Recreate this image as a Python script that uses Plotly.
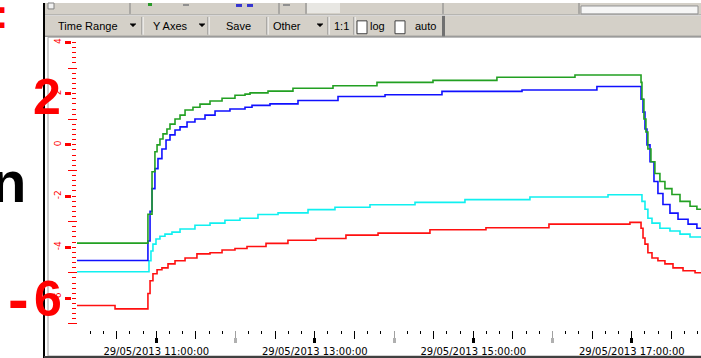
import pandas as pd
import plotly.graph_objects as go

W, H = 701, 358
BASE = "2013-05-29 10:00:00"

# ---- data (minutes after 10:00, value) ----
green_minutes = [0, 53.7, 56.8, 59.0, 60.6, 62.8, 65.1, 68.1, 70.4, 74.2,
                 78.0, 81.8, 87.8, 93.1, 100.7, 109.8, 119.6, 127.2, 131.0, 144.6,
                 163.5, 193.8, 227.1, 269.5, 317.9, 377.0, 427.0, 427.7, 429.2, 430.7,
                 432.2, 434.5, 437.5, 441.3, 445.1, 450.4, 456.5, 464.1, 469.3, 480]
green_values = [-3.84, -2.71, -1.05, -0.27, 0.0, 0.23, 0.43, 0.62, 0.81, 1.01,
                1.16, 1.36, 1.47, 1.59, 1.71, 1.82, 1.94, 1.98, 2.03, 2.10,
                2.21, 2.31, 2.44, 2.52, 2.64, 2.73, 2.44, 1.78, 1.01, 0.50,
                -0.16, -0.66, -1.12, -1.43, -1.71, -1.94, -2.21, -2.40, -2.52, -2.56]

blue_minutes = [0, 53.7, 55.3, 56.8, 59.0, 61.3, 64.3, 67.4, 70.4, 74.2,
                78.0, 83.3, 89.3, 96.9, 104.5, 115.8, 127.2, 132.5, 146.1, 167.3,
                197.6, 233.2, 276.3, 336.9, 393.6, 427.0, 428.5, 430.0, 431.5, 433.8,
                436.8, 439.8, 443.6, 448.9, 455.0, 462.6, 469.3, 480]
blue_values = [-4.52, -3.76, -2.60, -1.71, -0.93, -0.54, -0.16, 0.19, 0.39, 0.58,
               0.70, 0.89, 1.01, 1.16, 1.32, 1.40, 1.47, 1.54, 1.60, 1.73,
               1.89, 1.96, 2.09, 2.14, 2.28, 1.78, 1.28, 0.62, 0.0, -0.66,
               -1.43, -1.90, -2.33, -2.67, -2.91, -3.10, -3.26, -3.29]

cyan_minutes = [0, 54.5, 56.0, 57.5, 59.8, 62.8, 66.6, 71.9, 78.0, 89.3,
                100.7, 112.0, 123.4, 137.0, 152.2, 174.9, 195.3, 221.8, 255.9, 293.7,
                342.9, 402.0, 427.7, 430.0, 432.2, 435.3, 441.3, 448.9, 456.5, 464.1,
                480]
cyan_values = [-4.96, -4.53, -4.15, -3.88, -3.68, -3.57, -3.49, -3.41, -3.29, -3.14,
               -3.06, -2.95, -2.87, -2.72, -2.66, -2.53, -2.44, -2.34, -2.25, -2.14,
               -2.04, -1.95, -2.21, -2.52, -2.87, -3.06, -3.26, -3.37, -3.49, -3.60,
               -3.60]

red_minutes = [0, 28.8, 53.7, 55.3, 57.5, 60.6, 64.3, 68.9, 74.2, 81.8,
               90.8, 100.7, 109.8, 119.6, 128.7, 143.1, 159.7, 180.9, 203.6, 227.9,
               267.2, 309.6, 357.3, 418.6, 427.0, 428.5, 430.0, 432.2, 435.3, 439.8,
               445.1, 451.2, 458.8, 467.9, 480]
red_values = [-6.28, -6.41, -5.81, -5.31, -5.04, -4.88, -4.81, -4.65, -4.53, -4.42,
              -4.26, -4.22, -4.11, -4.05, -3.97, -3.85, -3.73, -3.66, -3.53, -3.45,
              -3.32, -3.24, -3.10, -3.03, -3.26, -3.64, -3.88, -4.22, -4.42, -4.53,
              -4.65, -4.81, -4.92, -5.00, -5.00]

x_tick_labels = ["29/05/2013 11:00:00", "29/05/2013 13:00:00",
                 "29/05/2013 15:00:00", "29/05/2013 17:00:00"]
labelled_hours = [11, 13, 15, 17]
grey_hours = [12, 14, 16]
y_major = [-6, -4, -2, 0, 2, 4]
y_mid = [-7, -5, -3, -1, 1, 3]
y_tick_labels = ["-6", "-4", "-2", "0", "2", "4"]
x_range_minutes = [0, 472.4]
y_range = [-7.09, 4.07]

base = pd.Timestamp(BASE)


def t(m):
    return base + pd.to_timedelta(m, unit="min")


def tl(ms):
    return [t(m) for m in ms]


def px(x):
    return x / W


def py(y):
    return 1 - y / H


fig = go.Figure()
for mins, vals, col in [(red_minutes, red_values, "#ff1010"),
                        (cyan_minutes, cyan_values, "#10f0f0"),
                        (blue_minutes, blue_values, "#1010ff"),
                        (green_minutes, green_values, "#22a022")]:
    fig.add_trace(go.Scatter(x=tl(mins), y=vals, mode="lines",
                             line=dict(color=col, width=1.6, shape="hv"),
                             hoverinfo="skip"))

xr = [t(x_range_minutes[0]), t(x_range_minutes[1])]
ten_min = [t(m) for m in range(10, 480, 10)]
half_hours = [t(m) for m in range(30, 480, 60)]
lab_hours = [t((h - 10) * 60) for h in labelled_hours]
gr_hours = [t((h - 10) * 60) for h in grey_hours]

common_x = dict(type="date", range=xr, showgrid=False, zeroline=False,
                showline=False, overlaying="x", anchor="free", side="bottom")

y_minor = [round(-7.0 + 0.2 * i, 2) for i in range(56)]
common_y = dict(range=y_range, showgrid=False, zeroline=False, showline=False,
                overlaying="y", anchor="free", side="left")

fig.update_layout(
    width=W, height=H, margin=dict(l=0, r=0, t=0, b=0),
    paper_bgcolor="white", plot_bgcolor="white", showlegend=False,
    xaxis=dict(type="date", domain=[px(77), 1], range=xr, showgrid=False,
               zeroline=False, showline=False, showticklabels=False, ticks=""),
    xaxis2=dict(**common_x, position=py(330), tickmode="array", tickvals=ten_min,
                ticks="outside", ticklen=3, tickwidth=1, tickcolor="#000",
                showticklabels=False),
    xaxis3=dict(**common_x, position=py(330), tickmode="array", tickvals=half_hours,
                ticks="outside", ticklen=8, tickwidth=1, tickcolor="#000",
                showticklabels=False),
    xaxis4=dict(**common_x, position=py(330), tickmode="array", tickvals=lab_hours,
                ticktext=x_tick_labels, ticks="outside", ticklen=12, tickwidth=1,
                tickcolor="#000", showticklabels=True,
                tickfont=dict(family="DejaVu Sans", size=10, color="#000")),
    xaxis5=dict(**common_x, position=py(330), tickmode="array", tickvals=gr_hours,
                ticks="outside", ticklen=12, tickwidth=1, tickcolor="#a0a0a0",
                showticklabels=False),
    xaxis6=dict(**common_x, position=py(337), tickmode="array", tickvals=lab_hours,
                ticks="outside", ticklen=5, tickwidth=3, tickcolor="#000",
                showticklabels=False),
    xaxis7=dict(**common_x, position=py(337), tickmode="array", tickvals=gr_hours,
                ticks="outside", ticklen=5, tickwidth=3, tickcolor="#b0b0b0",
                showticklabels=False),
    yaxis=dict(domain=[py(326), py(38)], range=y_range, showgrid=False,
               zeroline=False, showline=False, showticklabels=False,
               tickmode="array", tickvals=y_minor, ticks="outside", ticklen=4,
               tickwidth=1, tickcolor="#ff0000"),
    yaxis2=dict(**common_y, position=px(77), tickmode="array", tickvals=y_mid,
                ticks="outside", ticklen=9, tickwidth=1, tickcolor="#ff0000",
                showticklabels=False),
    yaxis3=dict(**common_y, position=px(71), tickmode="array", tickvals=y_major,
                ticktext=y_tick_labels, ticks="outside", ticklen=6, tickwidth=3,
                tickcolor="#ff0000", showticklabels=True, tickangle=-90,
                tickfont=dict(family="DejaVu Sans", size=9, color="#ff0000")),
)

# invisible anchor traces so the overlaying tick axes render
for i in range(2, 8):
    fig.add_trace(go.Scatter(x=[xr[0]], y=[0], xaxis=f"x{i}", yaxis="y",
                             mode="markers", marker=dict(opacity=0),
                             hoverinfo="skip"))
for i in range(2, 4):
    fig.add_trace(go.Scatter(x=[xr[0]], y=[0], xaxis="x", yaxis=f"y{i}",
                             mode="markers", marker=dict(opacity=0),
                             hoverinfo="skip"))

shapes = []


def rect(x0, y0, x1, y1, fill=None, line=None, lw=1):
    shapes.append(dict(type="rect", xref="paper", yref="paper",
                       x0=px(x0), x1=px(x1), y0=py(y1), y1=py(y0),
                       fillcolor=fill if fill else "rgba(0,0,0,0)",
                       line=dict(color=line if line else "rgba(0,0,0,0)",
                                 width=lw if line else 0)))


def hline(x0, x1, y, col, lw=1):
    shapes.append(dict(type="line", xref="paper", yref="paper",
                       x0=px(x0), x1=px(x1), y0=py(y), y1=py(y),
                       line=dict(color=col, width=lw)))


def vline(x, y0, y1, col, lw=1):
    shapes.append(dict(type="line", xref="paper", yref="paper",
                       x0=px(x), x1=px(x), y0=py(y0), y1=py(y1),
                       line=dict(color=col, width=lw)))


def tri(cx, cy):
    path = (f"M {px(cx-3)},{py(cy-1.5)} L {px(cx+3)},{py(cy-1.5)} "
            f"L {px(cx)},{py(cy+1.5)} Z")
    shapes.append(dict(type="path", xref="paper", yref="paper", path=path,
                       fillcolor="#000", line=dict(color="#000", width=0.5)))


# toolbar
rect(45, 0, 701, 12.5, fill="#d4d0c8")
rect(45, 12.5, 701, 34, fill="#d4d0c8")
hline(45, 701, 12.5, "#ffffff")
hline(45, 701, 12, "#a0a0a0")
for sx in [130, 279, 306, 443, 579]:
    vline(sx, 0, 11, "#808080")
rect(307, 0, 340, 10, fill="#e8e7e3")
rect(581, 3, 698, 11, fill="#f6f6f6", line="#909090")
rect(48, 0, 54, 6, fill="#f0f0f0", line="#808080")
rect(148, 0, 152, 3, fill="#2a9a2a")
rect(183, 1, 189, 3, fill="#909090")
rect(236, 1, 242, 4, fill="#3535d0")
rect(247, 1, 253, 4, fill="#3535d0")
rect(283, 1, 290, 3, fill="#909090")
for sx in [142, 208, 267, 328, 354]:
    vline(sx, 14, 32, "#808080")
    vline(sx + 1, 14, 32, "#ffffff")
vline(443.5, 13, 34, "#707070", 3)
rect(357, 18, 367, 31, fill="#ffffff", line="#404040")
rect(395, 18, 405, 31, fill="#ffffff", line="#404040")
tri(133, 22.5)
tri(202, 22.5)
tri(320, 22.5)
hline(45, 701, 33.5, "#808080")

# window / panel frame
vline(44, 0, 358, "#000000", 2)
rect(48, 34.5, 703, 356, line="#a0a0a0")
hline(44, 701, 357, "#404040", 2)

fig.update_layout(shapes=shapes)

annotations = []


def label(text, x, y, size, color="#000", family="Liberation Sans", bold=False,
          xanchor="center"):
    annotations.append(dict(text=f"<b>{text}</b>" if bold else text,
                            xref="paper", yref="paper", x=px(x), y=py(y),
                            xanchor=xanchor, yanchor="middle", showarrow=False,
                            font=dict(family=family, size=size, color=color)))


for txt, cx in [("Time Range", 88), ("Y Axes", 170), ("Save", 238),
                ("Other", 287), ("1:1", 341), ("log", 378), ("auto", 425)]:
    label(txt, cx, 23, 11)

label("2", 46.5, 95, 50, color="#ff0000", bold=True)
label("6", 47.5, 298, 50, color="#ff0000", bold=True)
label("-", 18, 298, 62, color="#ff0000", bold=True)
label("n", 8.5, 180, 58, color="#000000", bold=True)
label(":", 1, 11, 40, color="#ff0000", bold=True)

fig.update_layout(annotations=annotations)

fig.write_html("out.html",
               config={"displayModeBar": False, "staticPlot": True},
               post_script="document.body.style.margin='0';"
                           "document.body.style.overflow='hidden';")
